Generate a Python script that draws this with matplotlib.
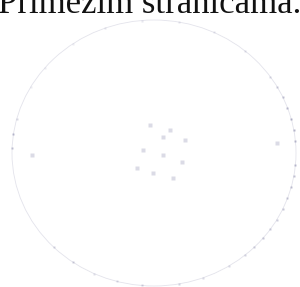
import matplotlib
matplotlib.use('Agg')
import matplotlib.pyplot as plt
from matplotlib.patches import Ellipse
import numpy as np

# caption text, cut off at the top of the scan
caption = 'Primezim stranicama.'

# faint ring of dots (angle in degrees, 0 = right, counter-clockwise on screen)
ring_angles = [5, 10, 15, 20, 25, 30, 35, -5, -10, -15, -20, -25, -30, -35, -40,
               -45, -50, -58, -70, -80, -95, -105, -115, -125, -135, 178, 172, 165,
               150, 140, 125, 110, 95, 80, 65, 50]
ring_alpha = [0.55, 0.6, 0.6, 0.55, 0.5, 0.4, 0.3, 0.55, 0.5, 0.5, 0.45, 0.45, 0.4, 0.4, 0.45,
              0.4, 0.35, 0.3, 0.3, 0.35, 0.35, 0.3, 0.25, 0.4, 0.35, 0.5, 0.55, 0.3,
              0.15, 0.15, 0.15, 0.2, 0.2, 0.2, 0.2, 0.25]

# small cluster of specks in the middle
cluster_x = [163, 185, 143, 163, 182, 137, 153, 173, 277, 32, 150, 170]
cluster_y = [137, 140, 150, 155, 162, 168, 173, 178, 143, 155, 125, 130]

fig = plt.figure(figsize=(3.0, 2.87), dpi=100)
ax = fig.add_axes([0, 0, 1, 1])
ax.set_xlim(0, 300)
ax.set_ylim(287, 0)
ax.axis('off')

cx, cy, rx, ry = 154, 153, 142, 133
ax.add_patch(Ellipse((cx, cy), 2 * rx, 2 * ry, fill=False, ec='#c8c8d8', lw=0.6, alpha=0.5))

t = np.radians(ring_angles)
rx_pts = cx + rx * np.cos(t)
ry_pts = cy - ry * np.sin(t)
for x, y, a in zip(rx_pts, ry_pts, ring_alpha):
    ax.plot(x, y, 's', ms=1.6, color='#8888aa', alpha=a, mec='none')

ax.plot(cluster_x, cluster_y, 's', ms=2.2, color='#9a9ab8', alpha=0.35, mec='none')

ax.text(150, 13, caption, ha='center', va='baseline', fontsize=25,
        family='Liberation Serif', color='#111111')

fig.savefig('out.png', dpi=100)
